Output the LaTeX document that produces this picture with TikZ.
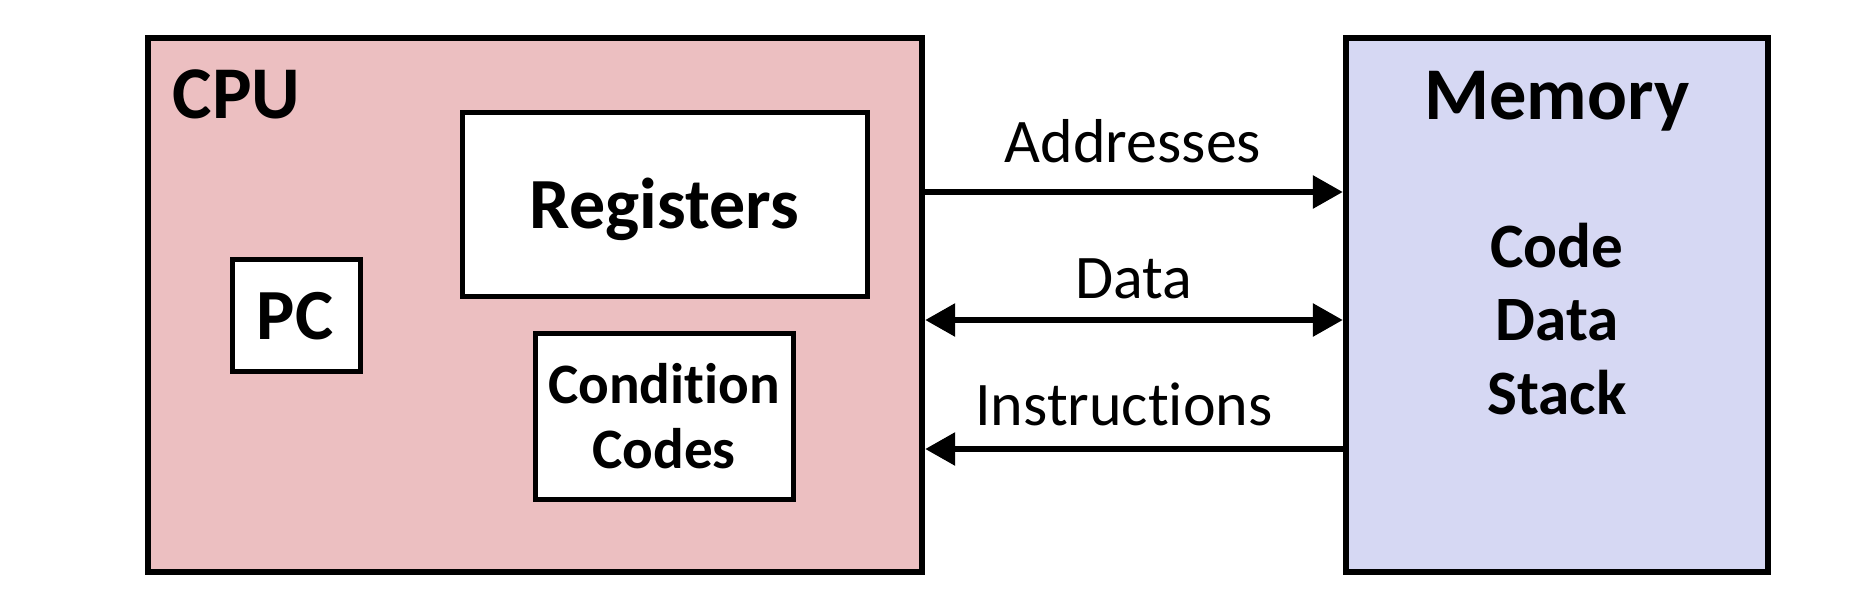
\documentclass[tikz,border=0pt]{standalone}
\usepackage{fontspec}
\setmainfont{Carlito}[Ligatures={NoCommon}]
\usetikzlibrary{arrows.meta}
\definecolor{cpupink}{RGB}{236,191,193}
\definecolor{memblue}{RGB}{214,216,243}

\begin{document}
\begin{tikzpicture}[x=0.25pt,y=-0.25pt,>={Triangle[length=7.5pt,width=8pt]},
		unit/.style={draw,line width=1.6pt,inner sep=0pt,minimum height=133.5pt},
		part/.style={draw,fill=white,line width=1.25pt,inner sep=0pt},
		bus/.style={line width=1.5pt},
		lbl/.style={anchor=base,inner sep=0pt,font=\fontsize{15.5}{18}\selectfont},
		big/.style={anchor=base,inner sep=0pt,font=\fontsize{18.6}{23}\selectfont\bfseries},
		bold/.style={anchor=base,inner sep=0pt,font=\fontsize{#1}{20}\selectfont\bfseries}]
		\useasboundingbox (0,0) rectangle (1876,610);

		% boxes
		\node[unit,fill=cpupink,minimum width=193.5pt] (cpu) at (535,305) {};
		\node[unit,fill=memblue,minimum width=105.5pt] (mem) at (1557,305) {};
		\node[part,minimum width=101.25pt,minimum height=46pt] (reg) at (664.5,204) {};
		\node[part,minimum width=32pt,minimum height=28pt] (pc) at (296,315) {};
		\node[part,minimum width=64.5pt,minimum height=41.5pt] (cc) at (664,416) {};

		% texts
		\node[big,anchor=base west] (cputxt) at (172,118) {CPU};
		\node[big] (memtxt) at (1557,119) {Memory};
		\node[bold=18] (regtxt) at (664.5,228) {Registers};
		\node[bold=18] (pctxt) at (295,339) {PC};
		\node[bold=14.3] (cctop) at (664,403) {Condition};
		\node[bold=14.3] (ccbot) at (664,468) {Codes};
		\foreach \w [count=\i] in {Code,Data,Stack}
			\node[bold=15.8] (seg\i) at (1557,{267+73.5*(\i-1)}) {\w};

		% buses
		\node[lbl] (addr) at (1133,162) {Addresses};
		\node[lbl] (data) at (1134,298) {Data};
		\node[lbl] (instr) at (1124,425) {Instructions};
		\draw[bus,->] (cpu.east |- 0,192) -- (mem.west |- 0,192);
		\draw[bus,<->] (cpu.east |- 0,320) -- (mem.west |- 0,320);
		\draw[bus,<-] (cpu.east |- 0,449) -- (mem.west |- 0,449);

	\end{tikzpicture}
\end{document}
